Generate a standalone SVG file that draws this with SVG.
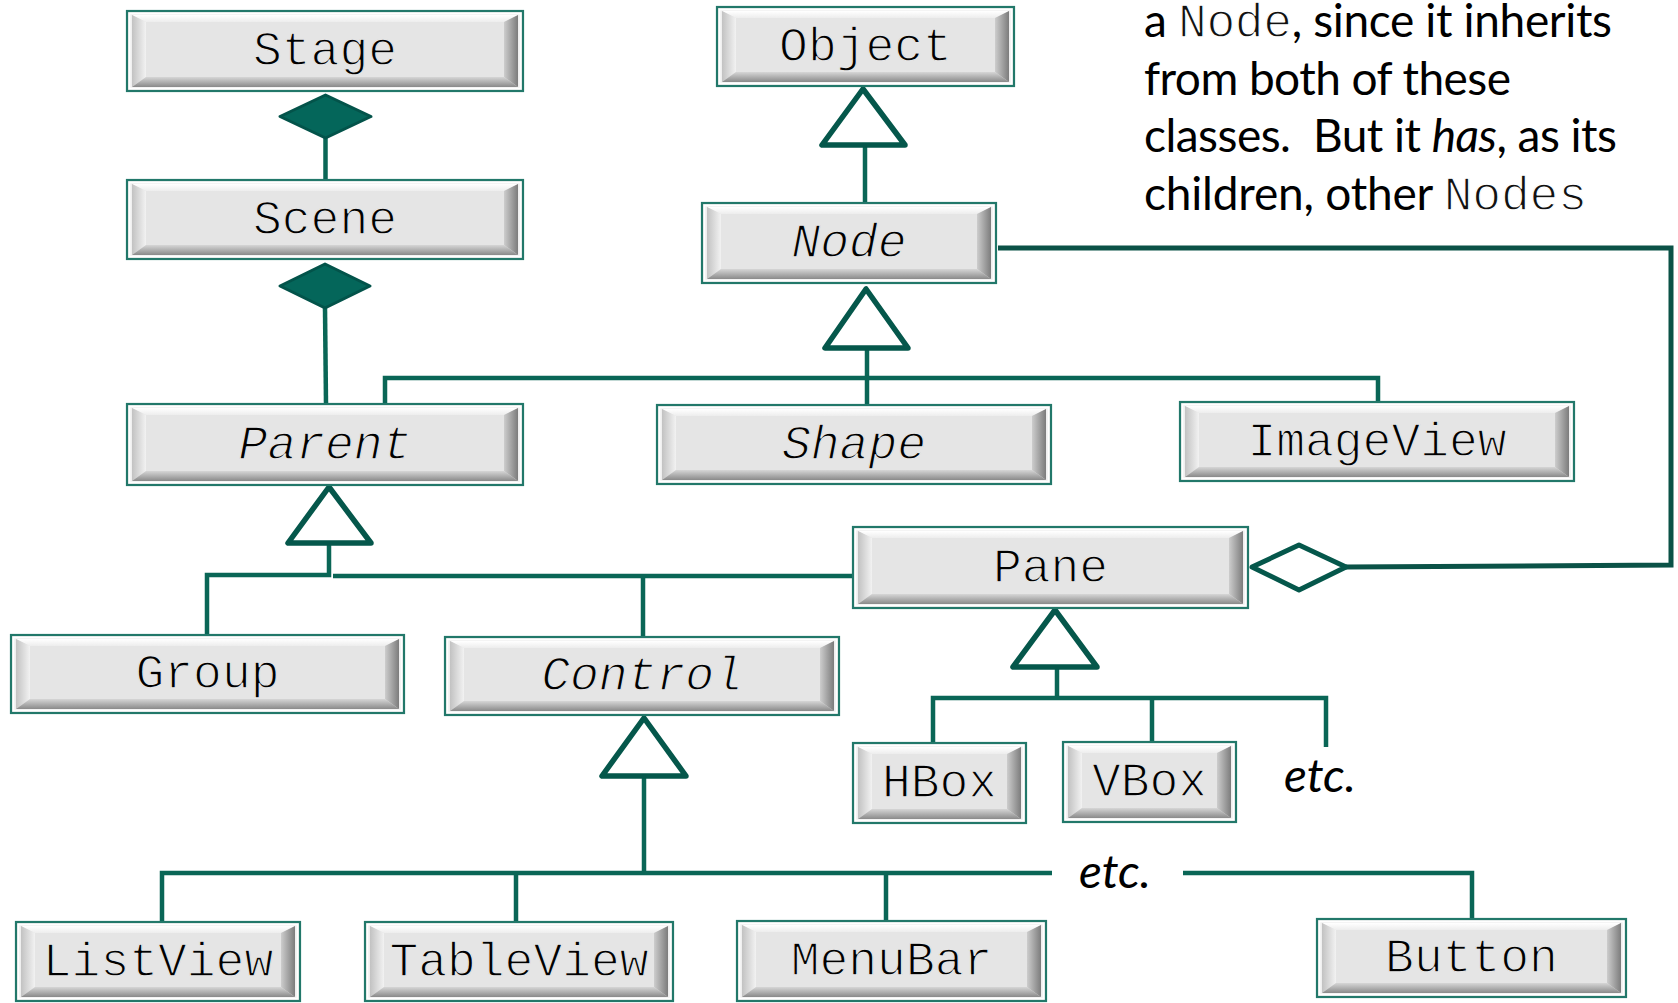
<svg xmlns="http://www.w3.org/2000/svg" width="1678" height="1003" viewBox="0 0 1678 1003">
  <defs>
    <linearGradient id="bvTop" x1="0" y1="0" x2="0" y2="1">
      <stop offset="0" stop-color="#ffffff"/>
      <stop offset="1" stop-color="#ededed"/>
    </linearGradient>
    <linearGradient id="bvLeft" x1="0" y1="0" x2="1" y2="0">
      <stop offset="0" stop-color="#c2c2c2"/>
      <stop offset="1" stop-color="#f2f2f2"/>
    </linearGradient>
    <linearGradient id="bvBottom" x1="0" y1="0" x2="0" y2="1">
      <stop offset="0" stop-color="#d6d6d6"/>
      <stop offset="1" stop-color="#8a8a8a"/>
    </linearGradient>
    <linearGradient id="bvRight" x1="0" y1="0" x2="1" y2="0">
      <stop offset="0" stop-color="#cdcdcd"/>
      <stop offset="1" stop-color="#7c7c7c"/>
    </linearGradient>
  </defs>
  <style>
    .frame { fill: #efefef; stroke: #22786a; stroke-width: 2.2; }
    .rim { fill: none; stroke: #ffffff; stroke-width: 1.6; }
    .face { fill: #e5e5e5; }
    .bt { fill: url(#bvTop); }
    .bl { fill: url(#bvLeft); }
    .bb { fill: url(#bvBottom); }
    .br { fill: url(#bvRight); }
    /* thin the monospace glyphs with a face-coloured outline */
    .cls { font-family: "Liberation Mono", "Courier New", monospace; font-size: 48px; fill: #000; text-anchor: middle;
           stroke: #e5e5e5; stroke-width: 1.3; stroke-linejoin: round; }
    .abs { font-style: italic; }
    .wire { fill: none; stroke: #0a6656; stroke-width: 4.5; }
    .link { fill: none; stroke: #0b5247; stroke-width: 5; }
    .gen { fill: #ffffff; stroke: #05574b; stroke-width: 5.5; stroke-linejoin: round; }
    .comp { fill: #04665a; stroke: #03534a; stroke-width: 3; stroke-linejoin: round; }
    .agg { fill: #ffffff; stroke: #05574b; stroke-width: 5; stroke-linejoin: round; }
    .note { font-family: Lato, "Open Sans", sans-serif; font-size: 46px; fill: #000; }
    .mono { font-family: "Liberation Mono", "Courier New", monospace; font-size: 48px; fill: #111;
            stroke: #ffffff; stroke-width: 1.3; stroke-linejoin: round; }
    .etc { font-family: Lato, "Open Sans", sans-serif; font-size: 46px; font-style: italic; fill: #000; }
  </style>
  <rect width="1678" height="1003" fill="#ffffff"/>

  <!-- connectors: composition, aggregation and generalisation lines -->
  <g id="connectors">
    <path class="wire" d="M325.5,138 V180"/>
    <path class="wire" d="M325,308 L326,404"/>
    <path class="wire" d="M865,145 V203"/>
    <path class="wire" d="M867,348 V405"/>
    <path class="wire" d="M385,403 V378 H1378 V402"/>
    <path class="wire" d="M329,543 V575 H207 V635"/>
    <path class="wire" d="M333,576 H853"/>
    <path class="wire" d="M643,576 V637"/>
    <path class="wire" d="M644,776 V873"/>
    <path class="wire" d="M162,922 V873 H1052"/>
    <path class="wire" d="M516,873 V922"/>
    <path class="wire" d="M886,873 V921"/>
    <path class="wire" d="M1183,873 H1472 V919"/>
    <path class="wire" d="M1057,667 V698"/>
    <path class="wire" d="M933,743 V698 H1326 V747"/>
    <path class="wire" d="M1152,698 V742"/>
    <path class="link" d="M998,248 H1671 V565 L1346,567"/>
    <polygon class="comp" points="325.5,95 371,116.5 325.5,138 280,116.5"/>
    <polygon class="comp" points="325,264 370,286 325,308 280,286"/>
    <polygon class="agg" points="1252,567 1299,545 1346,567 1299,590"/>
    <polygon class="gen" points="863,89 822,145 905,145"/>
    <polygon class="gen" points="866,289 825,348 908,348"/>
    <polygon class="gen" points="329,487 288,543 371,543"/>
    <polygon class="gen" points="644,718 602,776 686,776"/>
    <polygon class="gen" points="1055,610 1013,667 1097,667"/>
  </g>

  <!-- class boxes: frame, bevelled button and name -->
  <g id="stage" transform="translate(127,11)">
    <rect class="frame" width="396" height="80"/>
    <rect class="rim" x="2.5" y="2.5" width="391" height="75"/>
    <rect class="face" x="5" y="4" width="386" height="72"/>
    <path class="bt" d="M5,4 H391 L377,11 H19 Z"/>
    <path class="bl" d="M5,4 L19,11 V66 L5,76 Z"/>
    <path class="bb" d="M5,76 L19,66 H377 L391,76 Z"/>
    <path class="br" d="M391,4 V76 L377,66 V11 Z"/>
    <text class="cls" x="198" y="54">Stage</text>
  </g>

  <g id="scene" transform="translate(127,180)">
    <rect class="frame" width="396" height="79"/>
    <rect class="rim" x="2.5" y="2.5" width="391" height="74"/>
    <rect class="face" x="5" y="4" width="386" height="71"/>
    <path class="bt" d="M5,4 H391 L377,11 H19 Z"/>
    <path class="bl" d="M5,4 L19,11 V65 L5,75 Z"/>
    <path class="bb" d="M5,75 L19,65 H377 L391,75 Z"/>
    <path class="br" d="M391,4 V75 L377,65 V11 Z"/>
    <text class="cls" x="198" y="53.5">Scene</text>
  </g>

  <g id="object" transform="translate(717,7)">
    <rect class="frame" width="297" height="79"/>
    <rect class="rim" x="2.5" y="2.5" width="292" height="74"/>
    <rect class="face" x="5" y="4" width="287" height="71"/>
    <path class="bt" d="M5,4 H292 L278,11 H19 Z"/>
    <path class="bl" d="M5,4 L19,11 V65 L5,75 Z"/>
    <path class="bb" d="M5,75 L19,65 H278 L292,75 Z"/>
    <path class="br" d="M292,4 V75 L278,65 V11 Z"/>
    <text class="cls" x="148.5" y="53.5">Object</text>
  </g>

  <g id="node" transform="translate(702,203)">
    <rect class="frame" width="294" height="80"/>
    <rect class="rim" x="2.5" y="2.5" width="289" height="75"/>
    <rect class="face" x="5" y="4" width="284" height="72"/>
    <path class="bt" d="M5,4 H289 L275,11 H19 Z"/>
    <path class="bl" d="M5,4 L19,11 V66 L5,76 Z"/>
    <path class="bb" d="M5,76 L19,66 H275 L289,76 Z"/>
    <path class="br" d="M289,4 V76 L275,66 V11 Z"/>
    <text class="cls abs" x="147" y="54">Node</text>
  </g>

  <g id="parent" transform="translate(127,404)">
    <rect class="frame" width="396" height="81"/>
    <rect class="rim" x="2.5" y="2.5" width="391" height="76"/>
    <rect class="face" x="5" y="4" width="386" height="73"/>
    <path class="bt" d="M5,4 H391 L377,11 H19 Z"/>
    <path class="bl" d="M5,4 L19,11 V67 L5,77 Z"/>
    <path class="bb" d="M5,77 L19,67 H377 L391,77 Z"/>
    <path class="br" d="M391,4 V77 L377,67 V11 Z"/>
    <text class="cls abs" x="198" y="54.5">Parent</text>
  </g>

  <g id="shape" transform="translate(657,405)">
    <rect class="frame" width="394" height="79"/>
    <rect class="rim" x="2.5" y="2.5" width="389" height="74"/>
    <rect class="face" x="5" y="4" width="384" height="71"/>
    <path class="bt" d="M5,4 H389 L375,11 H19 Z"/>
    <path class="bl" d="M5,4 L19,11 V65 L5,75 Z"/>
    <path class="bb" d="M5,75 L19,65 H375 L389,75 Z"/>
    <path class="br" d="M389,4 V75 L375,65 V11 Z"/>
    <text class="cls abs" x="197" y="53.5">Shape</text>
  </g>

  <g id="imageview" transform="translate(1180,402)">
    <rect class="frame" width="394" height="79"/>
    <rect class="rim" x="2.5" y="2.5" width="389" height="74"/>
    <rect class="face" x="5" y="4" width="384" height="71"/>
    <path class="bt" d="M5,4 H389 L375,11 H19 Z"/>
    <path class="bl" d="M5,4 L19,11 V65 L5,75 Z"/>
    <path class="bb" d="M5,75 L19,65 H375 L389,75 Z"/>
    <path class="br" d="M389,4 V75 L375,65 V11 Z"/>
    <text class="cls" x="197" y="53.5">ImageView</text>
  </g>

  <g id="pane" transform="translate(853,527)">
    <rect class="frame" width="395" height="81"/>
    <rect class="rim" x="2.5" y="2.5" width="390" height="76"/>
    <rect class="face" x="5" y="4" width="385" height="73"/>
    <path class="bt" d="M5,4 H390 L376,11 H19 Z"/>
    <path class="bl" d="M5,4 L19,11 V67 L5,77 Z"/>
    <path class="bb" d="M5,77 L19,67 H376 L390,77 Z"/>
    <path class="br" d="M390,4 V77 L376,67 V11 Z"/>
    <text class="cls" x="197.5" y="54.5">Pane</text>
  </g>

  <g id="group" transform="translate(11,635)">
    <rect class="frame" width="393" height="78"/>
    <rect class="rim" x="2.5" y="2.5" width="388" height="73"/>
    <rect class="face" x="5" y="4" width="383" height="70"/>
    <path class="bt" d="M5,4 H388 L374,11 H19 Z"/>
    <path class="bl" d="M5,4 L19,11 V64 L5,74 Z"/>
    <path class="bb" d="M5,74 L19,64 H374 L388,74 Z"/>
    <path class="br" d="M388,4 V74 L374,64 V11 Z"/>
    <text class="cls" x="196.5" y="53">Group</text>
  </g>

  <g id="control" transform="translate(445,637)">
    <rect class="frame" width="394" height="78"/>
    <rect class="rim" x="2.5" y="2.5" width="389" height="73"/>
    <rect class="face" x="5" y="4" width="384" height="70"/>
    <path class="bt" d="M5,4 H389 L375,11 H19 Z"/>
    <path class="bl" d="M5,4 L19,11 V64 L5,74 Z"/>
    <path class="bb" d="M5,74 L19,64 H375 L389,74 Z"/>
    <path class="br" d="M389,4 V74 L375,64 V11 Z"/>
    <text class="cls abs" x="197" y="53">Control</text>
  </g>

  <g id="hbox" transform="translate(853,743)">
    <rect class="frame" width="173" height="80"/>
    <rect class="rim" x="2.5" y="2.5" width="168" height="75"/>
    <rect class="face" x="5" y="4" width="163" height="72"/>
    <path class="bt" d="M5,4 H168 L154,11 H19 Z"/>
    <path class="bl" d="M5,4 L19,11 V66 L5,76 Z"/>
    <path class="bb" d="M5,76 L19,66 H154 L168,76 Z"/>
    <path class="br" d="M168,4 V76 L154,66 V11 Z"/>
    <text class="cls" x="86.5" y="54">HBox</text>
  </g>

  <g id="vbox" transform="translate(1063,742)">
    <rect class="frame" width="173" height="80"/>
    <rect class="rim" x="2.5" y="2.5" width="168" height="75"/>
    <rect class="face" x="5" y="4" width="163" height="72"/>
    <path class="bt" d="M5,4 H168 L154,11 H19 Z"/>
    <path class="bl" d="M5,4 L19,11 V66 L5,76 Z"/>
    <path class="bb" d="M5,76 L19,66 H154 L168,76 Z"/>
    <path class="br" d="M168,4 V76 L154,66 V11 Z"/>
    <text class="cls" x="86.5" y="54">VBox</text>
  </g>

  <g id="listview" transform="translate(16,922)">
    <rect class="frame" width="284" height="79"/>
    <rect class="rim" x="2.5" y="2.5" width="279" height="74"/>
    <rect class="face" x="5" y="4" width="274" height="71"/>
    <path class="bt" d="M5,4 H279 L265,11 H19 Z"/>
    <path class="bl" d="M5,4 L19,11 V65 L5,75 Z"/>
    <path class="bb" d="M5,75 L19,65 H265 L279,75 Z"/>
    <path class="br" d="M279,4 V75 L265,65 V11 Z"/>
    <text class="cls" x="142" y="53.5">ListView</text>
  </g>

  <g id="tableview" transform="translate(365,922)">
    <rect class="frame" width="308" height="79"/>
    <rect class="rim" x="2.5" y="2.5" width="303" height="74"/>
    <rect class="face" x="5" y="4" width="298" height="71"/>
    <path class="bt" d="M5,4 H303 L289,11 H19 Z"/>
    <path class="bl" d="M5,4 L19,11 V65 L5,75 Z"/>
    <path class="bb" d="M5,75 L19,65 H289 L303,75 Z"/>
    <path class="br" d="M303,4 V75 L289,65 V11 Z"/>
    <text class="cls" x="154" y="53.5">TableView</text>
  </g>

  <g id="menubar" transform="translate(737,921)">
    <rect class="frame" width="309" height="80"/>
    <rect class="rim" x="2.5" y="2.5" width="304" height="75"/>
    <rect class="face" x="5" y="4" width="299" height="72"/>
    <path class="bt" d="M5,4 H304 L290,11 H19 Z"/>
    <path class="bl" d="M5,4 L19,11 V66 L5,76 Z"/>
    <path class="bb" d="M5,76 L19,66 H290 L304,76 Z"/>
    <path class="br" d="M304,4 V76 L290,66 V11 Z"/>
    <text class="cls" x="154.5" y="54">MenuBar</text>
  </g>

  <g id="button" transform="translate(1317,919)">
    <rect class="frame" width="309" height="78"/>
    <rect class="rim" x="2.5" y="2.5" width="304" height="73"/>
    <rect class="face" x="5" y="4" width="299" height="70"/>
    <path class="bt" d="M5,4 H304 L290,11 H19 Z"/>
    <path class="bl" d="M5,4 L19,11 V64 L5,74 Z"/>
    <path class="bb" d="M5,74 L19,64 H290 L304,74 Z"/>
    <path class="br" d="M304,4 V74 L290,64 V11 Z"/>
    <text class="cls" x="154.5" y="53">Button</text>
  </g>

  <!-- "etc." markers for further subclasses -->
  <text id="etc-pane" class="etc" x="1284" y="792" textLength="72" lengthAdjust="spacingAndGlyphs">etc.</text>
  <text id="etc-control" class="etc" x="1079" y="888" textLength="72" lengthAdjust="spacingAndGlyphs">etc.</text>

  <!-- explanatory note -->
  <g id="note" class="note">
    <text x="1144" y="37" textLength="468" lengthAdjust="spacing">a <tspan class="mono">Node</tspan>, since it inherits</text>
    <text x="1144" y="94.6" textLength="367" lengthAdjust="spacing">from both of these</text>
    <text x="1144" y="152.2" textLength="473" lengthAdjust="spacing" xml:space="preserve">classes.  But it <tspan font-style="italic">has</tspan>, as its</text>
    <text x="1144" y="209.8" textLength="443" lengthAdjust="spacing">children, other <tspan class="mono">Nodes</tspan></text>
  </g>
</svg>
